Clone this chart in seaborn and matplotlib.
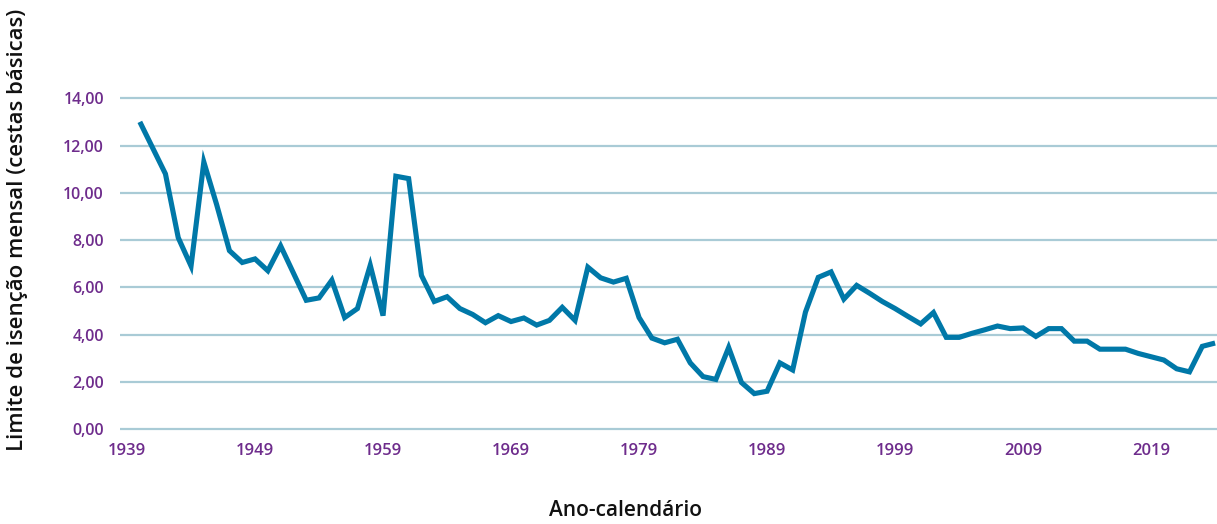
import matplotlib
matplotlib.use("Agg")
import matplotlib.pyplot as plt
import seaborn as sns
import pandas as pd

years = list(range(1940, 2025))
values = [13.0, 11.9, 10.8, 8.1, 6.9, 11.3, 9.5, 7.55, 7.05, 7.2,
          6.7, 7.75, 6.6, 5.45, 5.55, 6.3, 4.72, 5.1, 6.93, 4.8,
          10.7, 10.6, 6.5, 5.4, 5.6, 5.1, 4.85, 4.5, 4.8, 4.55,
          4.7, 4.4, 4.6, 5.15, 4.6, 6.85, 6.4, 6.22, 6.38, 4.72,
          3.85, 3.65, 3.8, 2.8, 2.22, 2.1, 3.45, 1.97, 1.5, 1.6,
          2.8, 2.5, 4.95, 6.42, 6.65, 5.5, 6.08, 5.75, 5.4, 5.1,
          4.77, 4.45, 4.93, 3.88, 3.88, 4.05, 4.2, 4.36, 4.25, 4.28,
          3.92, 4.25, 4.25, 3.72, 3.72, 3.38, 3.38, 3.38, 3.2, 3.06,
          2.92, 2.55, 2.42, 3.5, 3.64]
tick_years = [1939, 1949, 1959, 1969, 1979, 1989, 1999, 2009, 2019]
y_ticks = [0, 2, 4, 6, 8, 10, 12, 14]
y_tick_labels = ["0,00", "2,00", "4,00", "6,00", "8,00", "10,00", "12,00", "14,00"]

df = pd.DataFrame({"Ano": years, "Valor": values})

sns.set_style("white")
plt.rcParams["font.family"] = ["Open Sans", "DejaVu Sans"]

PURPLE = "#6E2C8C"
LINE = "#0078A8"
GRID = "#A9CBD6"

fig = plt.figure(figsize=(12.17, 5.24), dpi=100)
ax = fig.add_axes([0.0986, 0.1767, 0.9014, 0.6403])

sns.lineplot(data=df, x="Ano", y="Valor", ax=ax, color=LINE, linewidth=3.7,
             solid_joinstyle="miter", solid_capstyle="butt")

ax.set_xlim(1938.45, 2024.15)
ax.set_ylim(-0.1, 14.1)
ax.set_yticks(y_ticks)
ax.set_yticklabels(y_tick_labels)
ax.set_xticks(tick_years)
ax.set_xticklabels([str(t) for t in tick_years])

ax.yaxis.grid(True, color=GRID, linewidth=1.6)
ax.xaxis.grid(False)
ax.set_axisbelow(True)
for s in ax.spines.values():
    s.set_visible(False)

ax.tick_params(axis="both", length=0)
ax.tick_params(axis="y", pad=11.5, labelcolor=PURPLE, labelsize=11.5)
ax.tick_params(axis="x", pad=8, labelcolor=PURPLE, labelsize=12)
for lbl in ax.get_yticklabels() + ax.get_xticklabels():
    lbl.set_fontweight("semibold")

ax.set_xlabel("Ano-calendário", fontsize=15, fontweight="semibold", color="#111111")
ax.xaxis.set_label_coords(0.461, -0.205)
ax.set_ylabel("Limite de isenção mensal (cestas básicas)", fontsize=16, fontweight="semibold",
              color="#111111")
ax.yaxis.set_label_coords(-0.084, 0.60)

fig.savefig("out.png", dpi=100)
